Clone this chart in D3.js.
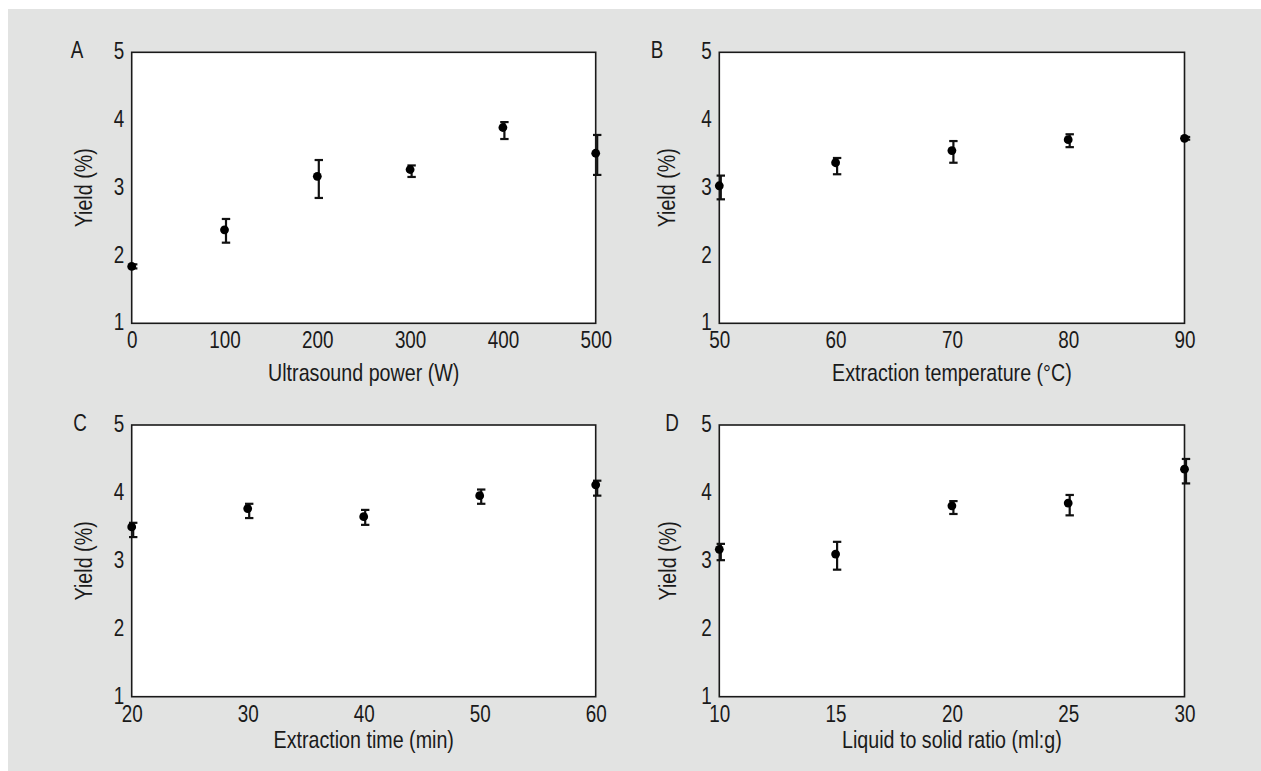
<!DOCTYPE html>
<html>
<head>
<meta charset="utf-8">
<script src="https://cdn.jsdelivr.net/npm/d3@7"></script>
<style>
  html, body { margin: 0; padding: 0; background: #ffffff; }
  svg text { font-family: "Liberation Sans Narrow", "Arial Narrow", "Liberation Sans", Arial, sans-serif; fill: #1a1a1a; }
</style>
</head>
<body>
<svg id="chart" width="1261" height="771"></svg>
<script>
// ---- Data ----
const yTicks = [1, 2, 3, 4, 5];
const yLabel = "Yield (%)";

// Panel A: ultrasound power
const powerW   = [0, 100, 200, 300, 400, 500];
const yieldA   = [1.84, 2.38, 3.17, 3.27, 3.89, 3.51];
const lowA     = [1.81, 2.19, 2.85, 3.16, 3.72, 3.19];
const highA    = [1.87, 2.54, 3.41, 3.33, 3.97, 3.78];

// Panel B: extraction temperature
const tempC    = [50, 60, 70, 80, 90];
const yieldB   = [3.03, 3.37, 3.55, 3.71, 3.73];
const lowB     = [2.83, 3.20, 3.37, 3.60, 3.71];
const highB    = [3.18, 3.44, 3.69, 3.79, 3.75];

// Panel C: extraction time
const timeMin  = [20, 30, 40, 50, 60];
const yieldC   = [3.50, 3.77, 3.65, 3.96, 4.12];
const lowC     = [3.35, 3.63, 3.53, 3.84, 3.96];
const highC    = [3.56, 3.84, 3.75, 4.05, 4.18];

// Panel D: liquid to solid ratio
const ratio    = [10, 15, 20, 25, 30];
const yieldD   = [3.17, 3.10, 3.81, 3.85, 4.35];
const lowD     = [3.01, 2.87, 3.69, 3.67, 4.14];
const highD    = [3.25, 3.28, 3.88, 3.97, 4.50];

const panels = [
  { letter: "A", xLabel: "Ultrasound power (W)", xs: powerW, ys: yieldA, lo: lowA, hi: highA,
    box: { l: 131.7, r: 595.7, t: 52.3, b: 323.3 }, letterX: 77, ylabX: 84, xlabDy: 58 },
  { letter: "B", xLabel: "Extraction temperature (\u00B0C)", xs: tempC, ys: yieldB, lo: lowB, hi: highB,
    box: { l: 719.3, r: 1184.5, t: 52.3, b: 323.3 }, letterX: 657, ylabX: 667, xlabDy: 58 },
  { letter: "C", xLabel: "Extraction time (min)", xs: timeMin, ys: yieldC, lo: lowC, hi: highC,
    box: { l: 131.7, r: 595.7, t: 425, b: 696.7 }, letterX: 80, ylabX: 84, xlabDy: 51 },
  { letter: "D", xLabel: "Liquid to solid ratio (ml:g)", xs: ratio, ys: yieldD, lo: lowD, hi: highD,
    box: { l: 719.3, r: 1184.5, t: 425, b: 696.7 }, letterX: 672, ylabX: 668, xlabDy: 51 }
];

const SX = 0.82; // horizontal condensing to mimic a narrow typeface
const svg = d3.select("#chart");
svg.append("rect").attr("x", 8).attr("y", 9).attr("width", 1253).attr("height", 762).attr("fill", "#e2e3e2");

panels.forEach(p => {
  const b = p.box;
  const x = d3.scaleLinear().domain(d3.extent(p.xs)).range([b.l, b.r]);
  const y = d3.scaleLinear().domain([yTicks[0], yTicks[yTicks.length - 1]]).range([b.b, b.t]);
  const g = svg.append("g");

  g.append("rect").attr("x", b.l).attr("y", b.t).attr("width", b.r - b.l).attr("height", b.b - b.t)
    .attr("fill", "#ffffff").attr("stroke", "#1a1a1a").attr("stroke-width", 1.6);

  // X axis
  const xa = g.append("g").attr("transform", `translate(0,${b.b})`)
    .call(d3.axisBottom(x).tickValues(p.xs).tickSize(0).tickFormat(d3.format("d")));
  xa.select(".domain").remove();
  xa.selectAll("text").attr("font-size", 23).attr("fill", "#1a1a1a").attr("font-family", null)
    .attr("x", 0).attr("y", 25).attr("dy", null).attr("transform", `scale(${SX},1)`);

  // Y axis
  const ya = g.append("g").attr("transform", `translate(${b.l},0)`)
    .call(d3.axisLeft(y).tickValues(yTicks).tickSize(0).tickFormat(d3.format("d")));
  ya.select(".domain").remove();
  ya.selectAll("text").attr("font-size", 23).attr("fill", "#1a1a1a").attr("font-family", null)
    .attr("x", -7.5 / SX).attr("y", 6.5).attr("dy", null).attr("transform", `scale(${SX},1)`);

  // Labels
  g.append("text").attr("transform", `translate(${(b.l + b.r) / 2},${b.b + p.xlabDy}) scale(${SX},1)`)
    .attr("text-anchor", "middle").attr("font-size", 24).text(p.xLabel);
  g.append("text").attr("transform", `translate(${p.ylabX},${(b.t + b.b) / 2}) rotate(-90) scale(${SX},1)`)
    .attr("text-anchor", "middle").attr("dy", "0.35em").attr("font-size", 24).text(yLabel);
  g.append("text").attr("transform", `translate(${p.letterX},${b.t + 5.5}) scale(${SX},1)`)
    .attr("text-anchor", "middle").attr("font-size", 23).text(p.letter);

  // Error bars
  const idx = p.xs.map((d, i) => i);
  const off = 1.5, cap = 4.2;
  const eb = g.append("g").attr("stroke", "#111").attr("stroke-width", 2.2);
  eb.selectAll("line.v").data(idx).join("line").attr("class", "v")
    .attr("x1", i => x(p.xs[i]) + off).attr("x2", i => x(p.xs[i]) + off)
    .attr("y1", i => y(p.lo[i])).attr("y2", i => y(p.hi[i]));
  eb.selectAll("line.t").data(idx).join("line").attr("class", "t")
    .attr("x1", i => x(p.xs[i]) + off - cap).attr("x2", i => x(p.xs[i]) + off + cap)
    .attr("y1", i => y(p.hi[i])).attr("y2", i => y(p.hi[i]));
  eb.selectAll("line.b").data(idx).join("line").attr("class", "b")
    .attr("x1", i => x(p.xs[i]) + off - cap).attr("x2", i => x(p.xs[i]) + off + cap)
    .attr("y1", i => y(p.lo[i])).attr("y2", i => y(p.lo[i]));

  // Points
  g.selectAll("circle").data(idx).join("circle")
    .attr("cx", i => x(p.xs[i])).attr("cy", i => y(p.ys[i])).attr("r", 4.4).attr("fill", "#000");
});
</script>
</body>
</html>
